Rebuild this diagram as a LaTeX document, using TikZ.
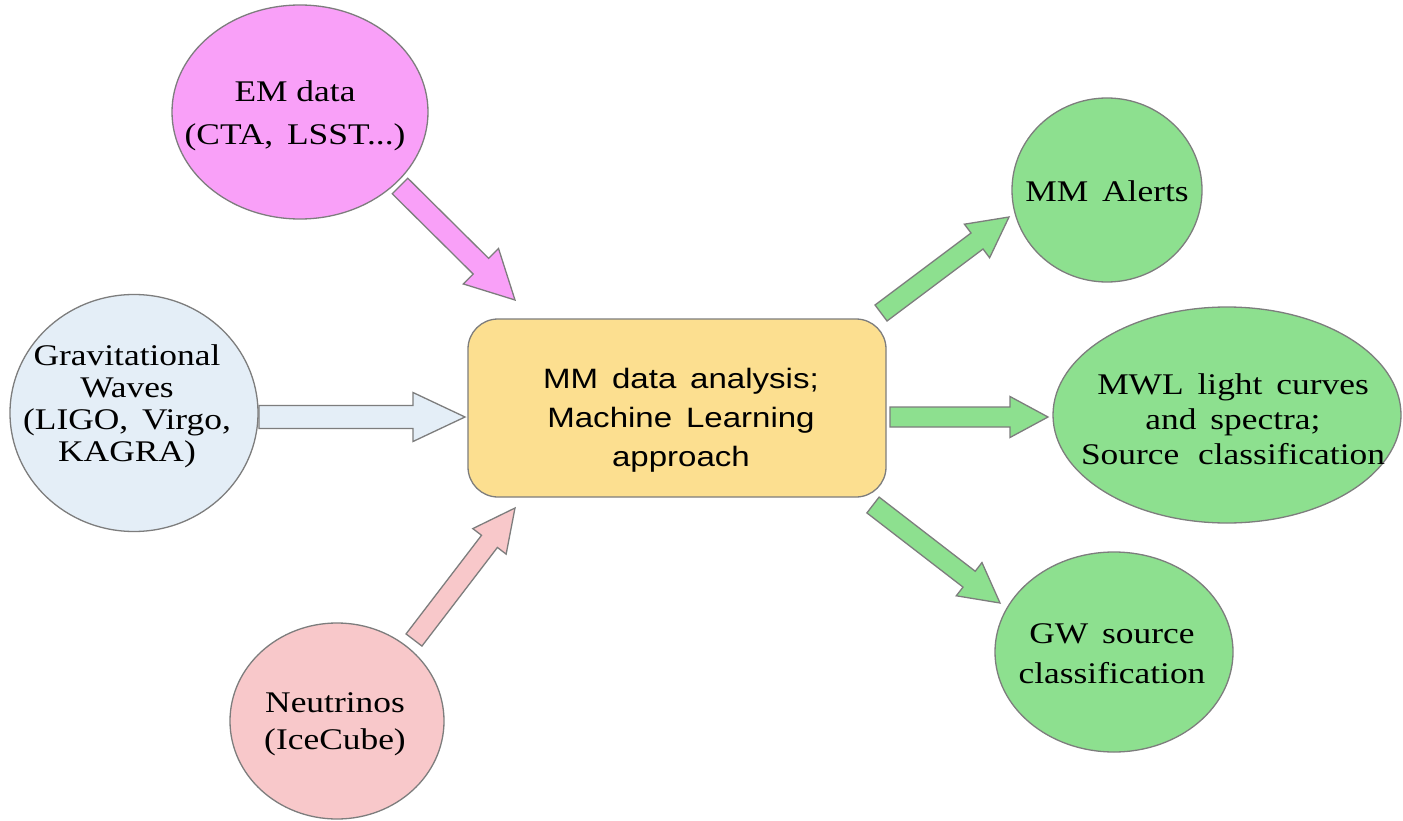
\documentclass[tikz,border=0pt]{standalone}
\usepackage{fontspec}
\setmainfont[FakeStretch=1.18]{Liberation Serif}
\setsansfont[FakeStretch=1.18]{Liberation Sans}
\usetikzlibrary{shapes.geometric,calc}
\definecolor{empink}{RGB}{249,160,248}
\definecolor{gwblue}{RGB}{228,238,247}
\definecolor{nupink}{RGB}{248,200,202}
\definecolor{boxyellow}{RGB}{252,223,144}
\definecolor{okgreen}{RGB}{141,224,143}
\definecolor{edgegray}{RGB}{125,125,125}
\tikzset{
  blob/.style={ellipse, draw=edgegray, line width=1.3pt, inner sep=0pt},
  lbl/.style={align=center, inner sep=0pt, text=black},
  arrowline/.style={draw=edgegray, line width=1.3pt, line join=miter},
}
% #1 from, #2 to, #3 fill, #4 shaft half width, #5 head half width, #6 head length
\newcommand\blockarrow[6]{%
  \path let \p1=(#1), \p2=(#2) in
    \pgfextra{%
      \pgfmathsetmacro\BAang{atan2(\y2-\y1,\x2-\x1)}%
      \pgfmathsetmacro\BAlen{veclen(\x2-\x1,\y2-\y1)}%
      \pgfmathsetmacro\BAhb{\BAlen-#6}%
      \xdef\BAang{\BAang}\xdef\BAlen{\BAlen}\xdef\BAhb{\BAhb}%
      \xdef\BAx{\x1}\xdef\BAy{\y1}};
  \begin{scope}[shift={(\BAx,\BAy)}, rotate=\BAang]
    \draw[arrowline, fill=#3] (0pt,-#4pt) -- (\BAhb pt,-#4pt) -- (\BAhb pt,-#5pt)
      -- (\BAlen pt,0pt) -- (\BAhb pt,#5pt) -- (\BAhb pt,#4pt) -- (0pt,#4pt) -- cycle;
  \end{scope}}
\begin{document}
\begin{tikzpicture}[x=1pt,y=-1pt]
\useasboundingbox[fill=white] (0,0) rectangle (1403,821);
% shapes
\node[blob, fill=empink, minimum width=256pt, minimum height=214pt] (em) at (300,112) {};
\node[blob, fill=gwblue, minimum width=248pt, minimum height=237pt] (gw) at (134,413) {};
\node[blob, fill=nupink, minimum width=214pt, minimum height=196pt] (nu) at (337,721) {};
\node[draw=edgegray, line width=1.3pt, fill=boxyellow, rounded corners=30pt,
      minimum width=418pt, minimum height=178pt, inner sep=0pt] (mm) at (677,408) {};
\node[blob, fill=okgreen, minimum width=190pt, minimum height=184pt] (alert) at (1107,190) {};
\node[blob, fill=okgreen, minimum width=348pt, minimum height=216pt] (mwl) at (1227,415) {};
\node[blob, fill=okgreen, minimum width=238pt, minimum height=200pt] (gws) at (1114,652) {};
% labels
\node[lbl, font=\fontsize{30}{43}\selectfont] (emT) at (295,116) {EM data\\(CTA,\, LSST...)};
\node[lbl, font=\fontsize{30}{32}\selectfont] (gwT) at (127,406) {Gravitational\\Waves\\(LIGO,\, Virgo,\\KAGRA)};
\node[lbl, font=\fontsize{30}{37}\selectfont] (nuT) at (335,724) {Neutrinos\\(IceCube)};
\node[lbl, font=\sffamily\fontsize{28}{39}\selectfont] (mmT) at (681,420) {MM\, data\, analysis;\\Machine\, Learning\\approach};
\node[lbl, font=\fontsize{30}{36}\selectfont] (alertT) at (1107,191) {MM\, Alerts};
\node[lbl, font=\fontsize{30}{35}\selectfont] (mwlT) at (1233,419) {MWL\, light\, curves\\and\, spectra;\\Source\,\, classification};
\node[lbl, font=\fontsize{30}{40}\selectfont] (gwsT) at (1112,654) {GW\, source\\classification};
% arrow end points
\coordinate (emS) at (400,186); \coordinate (emE) at (515,300);
\coordinate (gwS) at (259,417); \coordinate (gwE) at (465,417);
\coordinate (nuS) at (414,640); \coordinate (nuE) at (515,508);
\coordinate (alS) at (881,313); \coordinate (alE) at (1009,217);
\coordinate (mwS) at (890,417); \coordinate (mwE) at (1048,417);
\coordinate (gsS) at (873,505); \coordinate (gsE) at (1000,603);
% block arrows
\blockarrow{emS}{emE}{empink}{11}{25}{48}
\blockarrow{gwS}{gwE}{gwblue}{11.5}{24.5}{52}
\blockarrow{nuS}{nuE}{nupink}{10}{21}{42}
\blockarrow{alS}{alE}{okgreen}{10}{21}{40}
\blockarrow{mwS}{mwE}{okgreen}{10}{20.5}{38}
\blockarrow{gsS}{gsE}{okgreen}{10}{21}{39}
\end{tikzpicture}
\end{document}
